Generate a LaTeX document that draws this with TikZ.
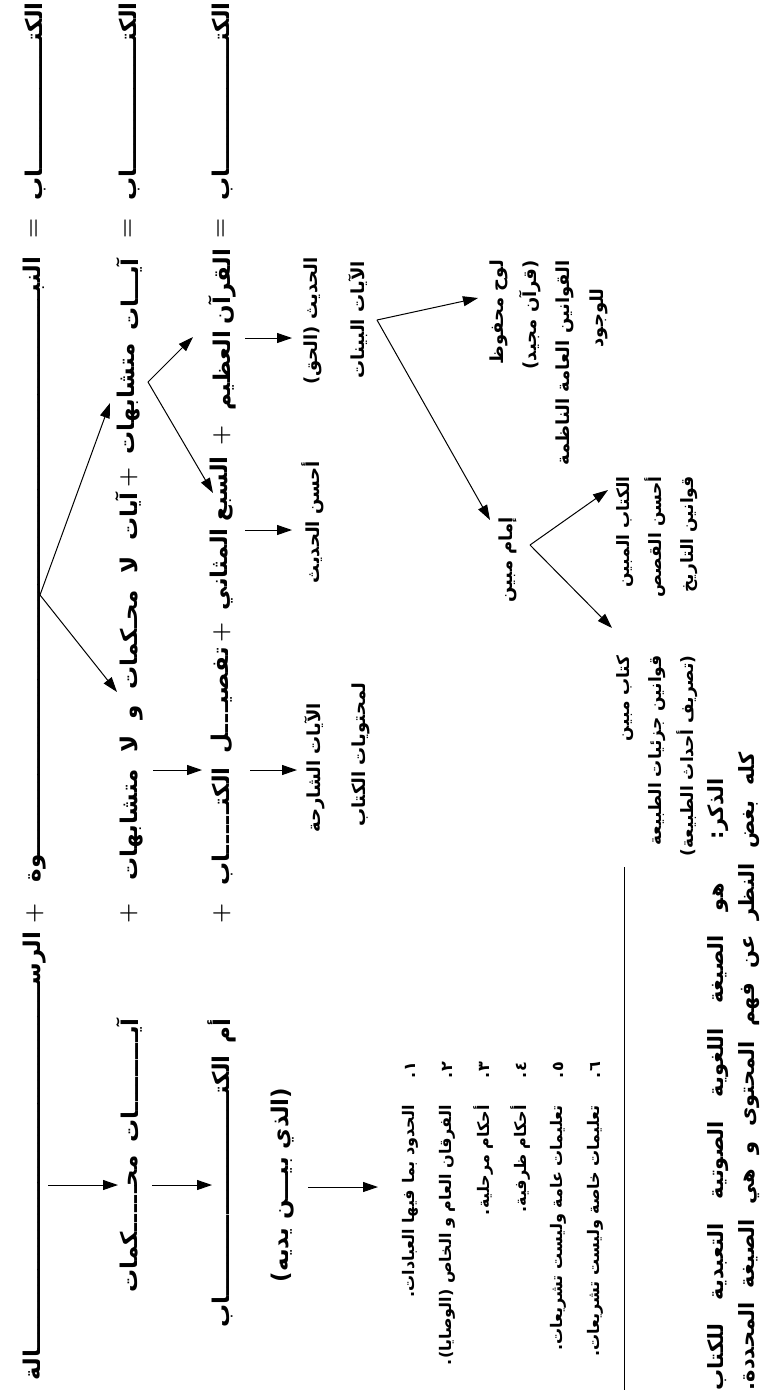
\documentclass[tikz,border=0pt]{standalone}
\usepackage{fontspec}
\newfontfamily\arabicfont[Script=Arabic]{DejaVu Sans}
\TeXXeTstate=1
\usetikzlibrary{arrows.meta}
\newcommand\AR[1]{\arabicfont\beginR #1\endR}
\newcommand\kash[3]{\hbox to #1{\arabicfont\beginR #2\xleaders\hbox{ـ}\hfill #3\endR}}
\newcommand\just[2]{\hbox to #1{\arabicfont\spaceskip=0.3em plus 1fill #2}}
\begin{document}
\begin{tikzpicture}[x=1pt,y=-1pt,
  mn/.style={rotate=90,inner sep=0pt,font=\fontsize{23}{28}\selectfont\bfseries},
  sm/.style={rotate=90,inner sep=0pt,align=center,font=\fontsize{18}{34}\selectfont\bfseries},
  lw/.style={rotate=90,inner sep=0pt,align=right,font=\fontsize{18}{33}\selectfont\bfseries},
  lst/.style={rotate=90,inner sep=0pt,font=\fontsize{16}{20}\selectfont\bfseries},
  blk/.style={rotate=90,inner sep=0pt,align=right,font=\fontsize{17}{32}\selectfont\bfseries},
  ft/.style={rotate=90,inner sep=0pt,font=\fontsize{21}{24}\selectfont\bfseries},
  arr/.style={-{Triangle[length=15pt,width=10pt]},line width=1pt}]
\useasboundingbox (0,0) rectangle (764,1393);
% column 1
\node[mn,anchor=east] (k1a) at (35,2) {\kash{198pt}{الكتـ}{ـاب}};
\node[mn] (eq1) at (35,228) {=};
\node[mn,anchor=east] (k1b) at (35,257) {\kash{625pt}{النبـ}{ـوة}};
\node[mn] (p1) at (35,913) {+};
\node[mn,anchor=east] (k1c) at (35,932) {\kash{448pt}{الرسـ}{ـالة}};
% column 2
\node[mn,anchor=east] (k2a) at (129,2) {\kash{198pt}{الكتـ}{ـاب}};
\node[mn] (eq2) at (129,228) {=};
\node[mn,anchor=east] (w2a) at (129,258) {\kash{72pt}{آيـ}{ـات}};
\node[mn,anchor=east] (w2b) at (129,343) {\AR{متشابهات}};
\node[mn] (p2a) at (129,477) {+};
\node[mn,anchor=east] (w2c) at (129,492) {\just{388pt}{\beginR آيات لا محـكمات و لا متشابهات\endR}};
\node[mn] (p2b) at (129,913) {+};
\node[mn,anchor=east] (w2h) at (129,1018) {\kash{124pt}{آيـ}{ـات}};
\node[mn,anchor=east] (w2i) at (129,1155) {\kash{137pt}{محـ}{ـكمات}};
% column 3
\node[mn,anchor=east] (k3a) at (222,2) {\kash{198pt}{الكتـ}{ـاب}};
\node[mn] (eq3) at (222,228) {=};
\node[mn,anchor=east] (w3a) at (222,260) {\just{150pt}{\beginR القرآن العظيم\endR}};
\node[mn] (p3a) at (222,435) {+};
\node[mn,anchor=east] (w3c) at (222,457) {\just{153pt}{\beginR السبع المثاني\endR}};
\node[mn] (p3b) at (222,632) {+};
\node[mn,anchor=east] (w3e) at (222,647) {\kash{106pt}{تفصيـ}{ـل}};
\node[mn,anchor=east] (w3f) at (222,767) {\kash{118pt}{الكتـ}{ـاب}};
\node[mn] (p3c) at (222,913) {+};
\node[mn] (w3g) at (222,1031) {\AR{أم}};
\node[mn,anchor=east] (w3h) at (222,1055) {\kash{272pt}{الكتـ}{ـاب}};
\node[mn] (ldy) at (283,1185) {\AR{(الذي بيـــن يديه)}};
% secondary texts
\node[sm] (hadith) at (313,321) {\AR{الحديث (الحق)}};
\node[sm] (ahsan) at (313,522) {\AR{أحسن الحديث}};
\node[sm] (sharh) at (315,768) {\AR{الآيات الشارحة}};
\node[sm] (muht) at (361,755) {\AR{لمحتويات الكتاب}};
\node[sm] (bay) at (358,320) {\AR{الآيات البينات}};
\node[lw,anchor=east] (lawh) at (532,260) {\AR{لوح محفوظ}\\\AR{(قرآن مجيد)}\\\AR{القوانين العامة الناظمة}};
\node[sm] (wujud) at (599,318) {\AR{للوجود}};
\node[sm] (imam) at (508,560) {\AR{إمام مبين}};
\node[blk,anchor=east] (kmub) at (657,476) {\AR{الكتاب المبين}\\\AR{أحسن القصص}\\\AR{قوانين التاريخ}};
\node[blk,anchor=east] (ktab) at (657,655) {\AR{كتاب مبين}\\\AR{قوانين جزئيات الطبيعة}\\\AR{(تصريف أحداث الطبيعة)}};
% list
\node[lst,anchor=east] (n1) at (410,1062) {\AR{١.}};
\node[lst,anchor=east] (n2) at (447,1062) {\AR{٢.}};
\node[lst,anchor=east] (n3) at (484,1062) {\AR{٣.}};
\node[lst,anchor=east] (n4) at (521,1062) {\AR{٤.}};
\node[lst,anchor=east] (n5) at (558,1062) {\AR{٥.}};
\node[lst,anchor=east] (n6) at (595,1062) {\AR{٦.}};
\node[lst,anchor=east] (l1) at (410,1105) {\AR{الحدود بما فيها العبادات.}};
\node[lst,anchor=east] (l2) at (447,1105) {\AR{الفرقان العام و الخاص (الوصايا).}};
\node[lst,anchor=east] (l3) at (484,1105) {\AR{أحكام مرحلية.}};
\node[lst,anchor=east] (l4) at (521,1105) {\AR{أحكام ظرفية.}};
\node[lst,anchor=east] (l5) at (558,1105) {\AR{تعليمات عامة وليست تشريعات.}};
\node[lst,anchor=east] (l6) at (595,1105) {\AR{تعليمات خاصة وليست تشريعات.}};
% separator and footnote
\coordinate (s1) at (624,867);
\coordinate (s2) at (624,1390);
\draw[line width=1pt] (s1) -- (s2);
\node[ft,anchor=east] (dh1) at (718,778) {\just{612pt}{\beginR الذكر: هو الصيغة اللغوية الصوتية التعبدية للكتاب\endR}};
\node[ft,anchor=east] (dh2) at (749,752) {\just{638pt}{\beginR كله بغض النظر عن فهم المحتوى و هي الصيغة المحددة.\endR}};
% arrows
\coordinate (F1) at (40,595);
\coordinate (T1) at (110,403);
\coordinate (T2) at (117,692);
\coordinate (F2) at (148,382);
\coordinate (T3) at (193,337);
\coordinate (T4) at (213,493);
\draw[arr] (F1) -- (T1);
\draw[arr] (F1) -- (T2);
\draw[arr] (F2) -- (T3);
\draw[arr] (F2) -- (T4);
\coordinate (a5) at (245,338); \coordinate (b5) at (292,338);
\coordinate (a6) at (245,530); \coordinate (b6) at (292,530);
\coordinate (a7) at (153,770); \coordinate (b7) at (202,770);
\coordinate (a8) at (250,770); \coordinate (b8) at (297,770);
\draw[arr] (a5) -- (b5);
\draw[arr] (a6) -- (b6);
\draw[arr] (a7) -- (b7);
\draw[arr] (a8) -- (b8);
\coordinate (F3) at (377,320);
\coordinate (T9) at (478,298);
\coordinate (T10) at (490,520);
\draw[arr] (F3) -- (T9);
\draw[arr] (F3) -- (T10);
\coordinate (F4) at (530,545);
\coordinate (T11) at (608,490);
\coordinate (T12) at (612,628);
\draw[arr] (F4) -- (T11);
\draw[arr] (F4) -- (T12);
\coordinate (a13) at (48,1185); \coordinate (b13) at (118,1185);
\coordinate (a14) at (152,1185); \coordinate (b14) at (212,1185);
\coordinate (a15) at (308,1187); \coordinate (b15) at (378,1187);
\draw[arr] (a13) -- (b13);
\draw[arr] (a14) -- (b14);
\draw[arr] (a15) -- (b15);
\end{tikzpicture}
\end{document}
